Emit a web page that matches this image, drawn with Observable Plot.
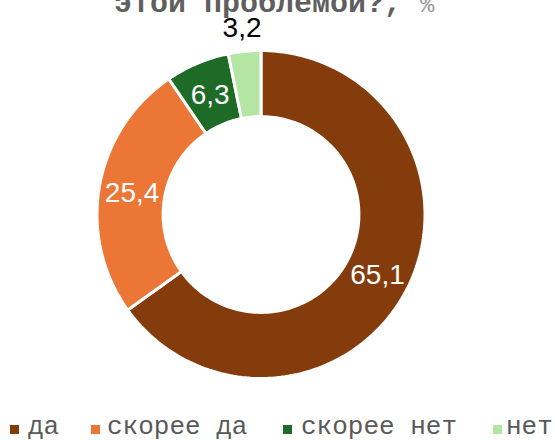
<!DOCTYPE html>
<html>
<head>
<meta charset="utf-8">
<script src="https://cdn.jsdelivr.net/npm/d3@7"></script>
<script src="https://cdn.jsdelivr.net/npm/@observablehq/plot@0.6"></script>
<style>
  html, body { margin: 0; padding: 0; background: #fff; width: 555px; height: 440px; overflow: hidden; position: relative; }
  #title { position: absolute; left: 0; top: -11px; width: 555px; font-family: "Liberation Mono", monospace; font-weight: bold; font-size: 30px; line-height: 30px; color: #5f5f5f; white-space: pre; }
  #title .t { position: absolute; left: 114px; }
  #title .p { font-weight: normal; color: #9a9a9a; font-size: 24px; }
  #chart { position: absolute; left: 0; top: 0; }
  .leg { position: absolute; top: 414px; font-family: "Liberation Mono", monospace; font-size: 26px; line-height: 26px; color: #595959; white-space: pre; }
  .sw { position: absolute; top: 425px; width: 9px; height: 9px; }
</style>
</head>
<body>
<div id="title"><span class="t">этой проблемой?, <span class="p">%</span></span></div>
<div id="chart"></div>
<div id="legend"></div>
<script>
const categories = ["да", "скорее да", "скорее нет", "нет"];
const values = [65.1, 25.4, 6.3, 3.2];
const valueLabels = ["65,1", "25,4", "6,3", "3,2"];
const colors = ["#843c0c", "#ec7636", "#1d6b27", "#b4e5a2"];

const innerRatio = 0.597;
const pie = d3.pie().sort(null).value(d => d.value)(
  categories.map((c, i) => ({key: c, value: values[i], label: valueLabels[i]}))
);

// polygon outline of each donut slice (angles from d3.pie, clockwise from top)
const arcPoints = [];
pie.forEach(s => {
  const n = Math.max(8, Math.ceil((s.endAngle - s.startAngle) / (2 * Math.PI) * 240));
  for (let k = 0; k <= n; k++) {
    const a = s.startAngle + (s.endAngle - s.startAngle) * k / n;
    arcPoints.push({key: s.data.key, x: Math.sin(a), y: Math.cos(a)});
  }
  for (let k = n; k >= 0; k--) {
    const a = s.startAngle + (s.endAngle - s.startAngle) * k / n;
    arcPoints.push({key: s.data.key, x: innerRatio * Math.sin(a), y: innerRatio * Math.cos(a)});
  }
});

const labelPoints = pie.map(s => {
  const a = (s.startAngle + s.endAngle) / 2;
  const outside = s.data.value < 5;
  const r = outside ? 1.15 : (1 + innerRatio) / 2;
  return {x: r * Math.sin(a), y: r * Math.cos(a), text: s.data.label, outside};
});

const W = 555, H = 410;
const cx = 260.5, cy = 214, R = 164;
const plot = Plot.plot({
  width: W,
  height: H,
  marginLeft: cx - R,
  marginRight: W - (cx + R),
  marginTop: cy - R,
  marginBottom: H - (cy + R),
  x: {domain: [-1, 1], axis: null},
  y: {domain: [-1, 1], axis: null},
  color: {domain: categories, range: colors},
  style: {background: "transparent"},
  marks: [
    Plot.line(arcPoints, {
      x: "x", y: "y", z: "key", fill: "key",
      stroke: "white", strokeWidth: 3, strokeLinejoin: "miter",
      curve: "linear-closed"
    }),
    Plot.text(labelPoints, {
      x: "x", y: "y", text: "text",
      fill: d => d.outside ? "#000000" : "#ffffff",
      fontSize: 28, fontFamily: "Liberation Sans, Arial, sans-serif",
      textAnchor: "middle", dy: 1
    })
  ]
});
document.getElementById("chart").appendChild(plot);

// legend
const legendX = [[10, 28], [91, 107], [283, 301], [493, 506]];
const legend = document.getElementById("legend");
categories.forEach((c, i) => {
  const sw = document.createElement("div");
  sw.className = "sw";
  sw.style.left = legendX[i][0] + "px";
  sw.style.background = colors[i];
  legend.appendChild(sw);
  const t = document.createElement("div");
  t.className = "leg";
  t.style.left = legendX[i][1] + "px";
  t.textContent = c;
  legend.appendChild(t);
});
</script>
</body>
</html>
